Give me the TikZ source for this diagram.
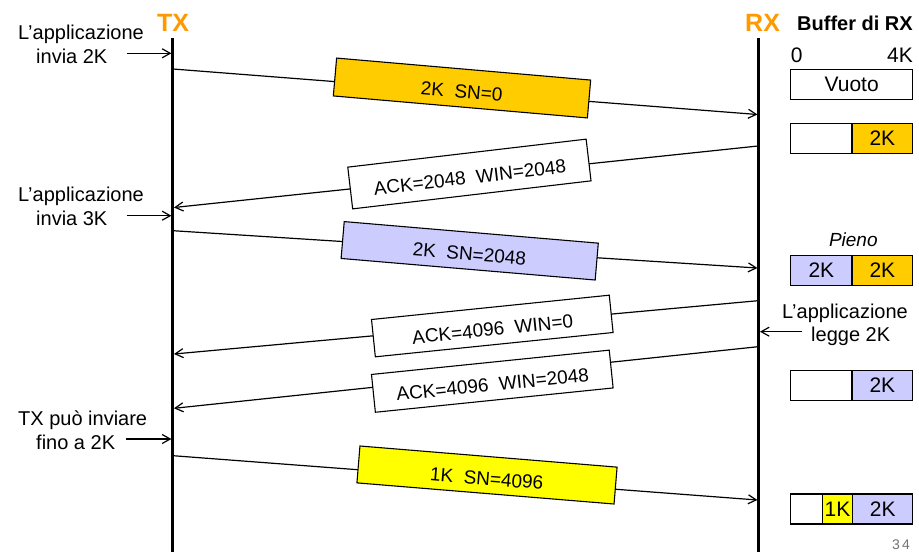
\documentclass[tikz,border=0pt]{standalone}
\usepackage{fontspec}
\setmainfont{Liberation Sans}
\usetikzlibrary{arrows.meta}
\definecolor{txorange}{HTML}{FF9900}
\definecolor{pktorange}{HTML}{FFCC00}
\definecolor{lilac}{HTML}{CCCCFF}
\definecolor{pktyellow}{HTML}{FFFF00}
\begin{document}
\begin{tikzpicture}[x=1pt,y=1pt,
  timeline/.style={line width=2.6pt},
  msg/.style={line width=1.2pt, -{Straight Barb[length=8pt,width=9pt]}},
  pkt/.style={draw, line width=1.1pt, inner sep=0pt, text height=20pt, text depth=0pt, font=\fontsize{19}{22}\selectfont},
  lbl/.style={font=\fontsize{20}{23.4}\selectfont, align=left, anchor=base west, inner sep=0pt},
  cell/.style={draw, line width=1.1pt, inner sep=0pt, minimum height=30pt, font=\fontsize{21}{24}\selectfont},
  hdr/.style={font=\fontsize{25}{28}\selectfont\bfseries, text=txorange, inner sep=0pt, anchor=base},
  plain/.style={inner sep=0pt, font=\fontsize{21}{24}\selectfont},
]
\useasboundingbox (0,0) rectangle (919,-552);

% headers
\node[hdr] (tx) at (173,-31.7) {TX};
\node[hdr, anchor=base west] (rx) at (745,-31.7) {RX};
\node[inner sep=0pt, font=\fontsize{20}{24}\selectfont\bfseries, anchor=base west] (buf) at (797,-30) {Buffer di RX};

% timelines
\coordinate (txtop) at (172.7,-38);
\coordinate (txbot) at (172.7,-552);
\coordinate (rxtop) at (758.7,-38);
\coordinate (rxbot) at (758.7,-552);
\draw[timeline] (txtop) -- (txbot);
\draw[timeline] (rxtop) -- (rxbot);

% message end points
\coordinate (t1) at (173,-69);    \coordinate (r1) at (757.4,-114.5);
\coordinate (r2) at (758,-146);   \coordinate (t2) at (174,-207.5);
\coordinate (t3) at (173,-230.7); \coordinate (r3) at (757.4,-268);
\coordinate (r4) at (758,-300.7); \coordinate (t4) at (174,-354);
\coordinate (r5) at (758,-346.7); \coordinate (t5) at (174,-408.3);
\coordinate (t6) at (173,-455.7); \coordinate (r6) at (757.4,-500);

\draw[msg] (t1) -- (r1);
\node[pkt, fill=pktorange, minimum width=255pt, minimum height=38pt, rotate=-4.95] (p1) at (462,-88) {2K~~SN=0};

\draw[msg] (r2) -- (t2);
\node[pkt, fill=white, minimum width=240pt, minimum height=42pt, rotate=6.7] (p2) at (469.4,-174) {ACK=2048~~WIN=2048};

\draw[msg] (t3) -- (r3);
\node[pkt, fill=lilac, minimum width=255pt, minimum height=37pt, rotate=-4.85] (p3) at (469.7,-250.8) {2K~~SN=2048};

\draw[msg] (r4) -- (t4);
\node[pkt, fill=white, minimum width=239pt, minimum height=37.5pt, rotate=5.84] (p4) at (492.3,-326) {ACK=4096~~WIN=0};

\draw[msg] (r5) -- (t5);
\node[pkt, fill=white, minimum width=239pt, minimum height=38pt, rotate=5.84] (p5) at (492.3,-381.2) {ACK=4096~~WIN=2048};

\draw[msg] (t6) -- (r6);
\node[pkt, fill=pktyellow, minimum width=258pt, minimum height=37pt, rotate=-4.7] (p6) at (487,-475) {1K~~SN=4096};

% side labels (base anchor = baseline of the last line)
\node[lbl] (l1) at (18,-63.3) {L'applicazione\\\hspace*{18pt}invia 2K};
\coordinate (a1s) at (126.7,-53.3); \coordinate (a1e) at (171.4,-53.3);
\draw[msg] (a1s) -- (a1e);

\node[lbl] (l2) at (18,-225) {L'applicazione\\\hspace*{18pt}invia 3K};
\coordinate (a2s) at (126.7,-215.7); \coordinate (a2e) at (171.4,-215.7);
\draw[msg] (a2s) -- (a2e);

\node[lbl] (l3) at (18,-449) {TX può inviare\\\hspace*{18pt}fino a 2K};
\coordinate (a3s) at (126,-439); \coordinate (a3e) at (171.4,-439);
\draw[msg] (a3s) -- (a3e);

\node[lbl] (l4) at (782,-341.7) {L'applicazione\\\hspace*{29pt}legge 2K};
\coordinate (a4s) at (802.3,-331.7); \coordinate (a4e) at (760,-331.7);
\draw[msg] (a4s) -- (a4e);

% buffer
\node[plain, anchor=base west] (z0) at (790.7,-62.7) {0};
\node[plain, anchor=base east] (z4) at (913,-62.7) {4K};
\node[cell, minimum width=122pt] (b1) at (851.7,-84.3) {Vuoto};

\node[cell, minimum width=61.3pt] (b2a) at (821.35,-138.3) {};
\node[cell, minimum width=60.7pt, fill=pktorange] (b2b) at (882.35,-138.3) {2K};

\node[inner sep=0pt, font=\fontsize{19}{22}\selectfont\itshape, anchor=base] (pieno) at (853.3,-246.7) {Pieno};
\node[cell, minimum width=61.3pt, fill=lilac] (b3a) at (821.35,-270.3) {2K};
\node[cell, minimum width=60.7pt, fill=pktorange] (b3b) at (882.35,-270.3) {2K};

\node[cell, minimum width=61.3pt] (b4a) at (821.35,-385.3) {};
\node[cell, minimum width=60.7pt, fill=lilac] (b4b) at (882.35,-385.3) {2K};

\node[cell, minimum width=31.6pt] (b5a) at (806.5,-509) {};
\node[cell, minimum width=30.4pt, fill=pktyellow] (b5b) at (837.5,-509) {1K};
\node[cell, minimum width=60pt, fill=lilac] (b5c) at (882.7,-509) {2K};

\node[inner sep=0pt, font=\fontsize{14}{16}\selectfont, text=black!55, anchor=base east] (pg) at (910,-549.5) {3\hspace{2pt}4};
\end{tikzpicture}
\end{document}
